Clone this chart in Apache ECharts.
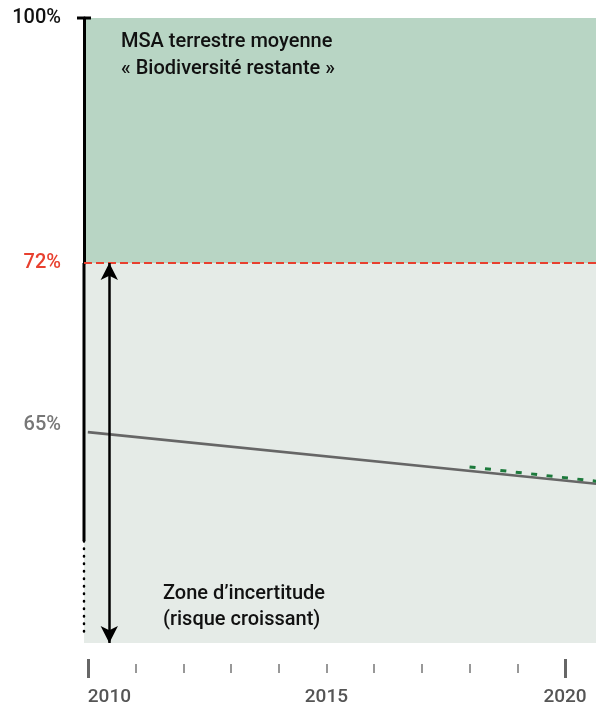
<!DOCTYPE html>
<html>
<head>
<meta charset="utf-8">
<script src="https://cdn.jsdelivr.net/npm/echarts@6/dist/echarts.min.js"></script>
<style>
html, body { margin: 0; padding: 0; background: #fff; }
#chart { width: 596px; height: 708px; }
</style>
</head>
<body>
<div id="chart"></div>
<script>
// axes
var xMin = 2009.92;
var xMax = 2020.65;
var majorYears = [2010, 2020];
var minorYears = [2011, 2012, 2013, 2014, 2015, 2016, 2017, 2018, 2019];
var yearLabels = [2010, 2015, 2020];
var upperRange = [72, 100];
var lowerRange = [55.6, 72];
var upperLabels = [100];
var lowerLabels = [72, 65];
var threshold = 72;

// séries
var msaTrend = [[2010, 64.7], [2021, 62.4]];
var msaRecent = [[2018, 63.2], [2021, 62.5]];
var arrowYear = 2010.45;
var axisSolid = [[xMin, 72], [xMin, 60]];
var axisDotted = [[xMin, 60], [xMin, 55.9]];

var FONT = 'Roboto, "Liberation Sans", sans-serif';

var chart = echarts.init(document.getElementById('chart'));

var option = {
    backgroundColor: '#ffffff',
    animation: false,
    grid: [{
        left: 84, width: 512, top: 18, height: 245,
        show: true, backgroundColor: '#b8d5c4', borderWidth: 0
    }, {
        left: 84, width: 512, top: 263, height: 380,
        show: true, backgroundColor: '#e5ebe7', borderWidth: 0
    }],
    xAxis: [{
        gridIndex: 0, type: 'value', min: xMin, max: xMax, show: false
    }, {
        gridIndex: 1, type: 'value', min: xMin, max: xMax,
        position: 'bottom', offset: 16,
        axisLine: { show: false },
        splitLine: { show: false },
        axisTick: {
            show: true, customValues: majorYears, length: 19,
            lineStyle: { color: '#666', width: 3 }
        },
        axisLabel: {
            customValues: yearLabels, margin: 29,
            alignMinLabel: 'left',
            color: '#555', fontFamily: FONT, fontSize: 19, fontWeight: 500,
            formatter: function (v) { return String(Math.round(v)); }
        }
    }, {
        gridIndex: 1, type: 'value', min: xMin, max: xMax,
        position: 'bottom', offset: 21,
        axisLine: { show: false },
        splitLine: { show: false },
        axisTick: {
            show: true, customValues: minorYears, length: 9,
            lineStyle: { color: '#777', width: 1.5 }
        },
        axisLabel: { show: false }
    }],
    yAxis: [{
        gridIndex: 0, type: 'value', min: upperRange[0], max: upperRange[1],
        axisLine: {
            show: true, symbol: ['none', 'rect'], symbolSize: [14, 3],
            lineStyle: { color: '#000', width: 3 }
        },
        axisTick: { show: false },
        splitLine: { show: false },
        axisLabel: {
            customValues: upperLabels, margin: 23,
            color: '#111', fontFamily: FONT, fontSize: 20, fontWeight: 500,
            formatter: '{value}%'
        }
    }, {
        gridIndex: 1, type: 'value', min: lowerRange[0], max: lowerRange[1],
        axisLine: { show: false },
        axisTick: { show: false },
        splitLine: { show: false },
        axisLabel: {
            customValues: lowerLabels, margin: 23,
            fontFamily: FONT, fontSize: 20, fontWeight: 500,
            formatter: function (v) {
                return v === threshold ? '{red|' + v + '%}' : '{grey|' + v + '%}';
            },
            rich: {
                red: { color: '#e8402f', fontFamily: FONT, fontSize: 20, fontWeight: 500 },
                grey: { color: '#777', fontFamily: FONT, fontSize: 20, fontWeight: 500 }
            }
        }
    }],
    series: [{
        // axe gauche, partie continue
        type: 'line', xAxisIndex: 1, yAxisIndex: 1,
        data: axisSolid, symbol: 'none', clip: false,
        lineStyle: { color: '#000', width: 3 }
    }, {
        // axe gauche, pointillés
        type: 'line', xAxisIndex: 1, yAxisIndex: 1,
        data: axisDotted, symbol: 'none', clip: false,
        lineStyle: { color: '#000', width: 2.5, type: [0.5, 7], cap: 'round' }
    }, {
        name: 'MSA',
        type: 'line', xAxisIndex: 1, yAxisIndex: 1,
        data: msaTrend, symbol: 'none',
        lineStyle: { color: '#666', width: 2.6 },
        markLine: {
            silent: true,
            symbol: ['none', 'none'],
            label: { show: false },
            lineStyle: { color: '#e8402f', width: 2, type: [8, 4] },
            data: [{ yAxis: threshold }]
        }
    }, {
        name: 'MSA récente',
        type: 'line', xAxisIndex: 1, yAxisIndex: 1,
        data: msaRecent, symbol: 'none',
        lineStyle: { color: '#1d7a3c', width: 3, type: [6, 9.5] }
    }, {
        // flèche zone d'incertitude
        type: 'line', xAxisIndex: 1, yAxisIndex: 1,
        data: [], symbol: 'none',
        markLine: {
            silent: true,
            symbol: ['arrow', 'arrow'],
            symbolSize: [13, 17],
            label: { show: false },
            lineStyle: { color: '#000', width: 2.5, type: 'solid' },
            data: [[{ coord: [arrowYear, lowerRange[1]] }, { coord: [arrowYear, lowerRange[0]] }]]
        }
    }],
    graphic: [{
        type: 'text', left: 121, top: 28,
        style: {
            text: 'MSA terrestre moyenne\n« Biodiversité restante »',
            fill: '#111', font: '500 20px ' + FONT, lineHeight: 27
        }
    }, {
        type: 'text', left: 163, top: 581,
        style: {
            text: 'Zone d\u2019incertitude\n(risque croissant)',
            fill: '#111', font: '500 20px ' + FONT, lineHeight: 26
        }
    }]
};

chart.setOption(option);
</script>
</body>
</html>
